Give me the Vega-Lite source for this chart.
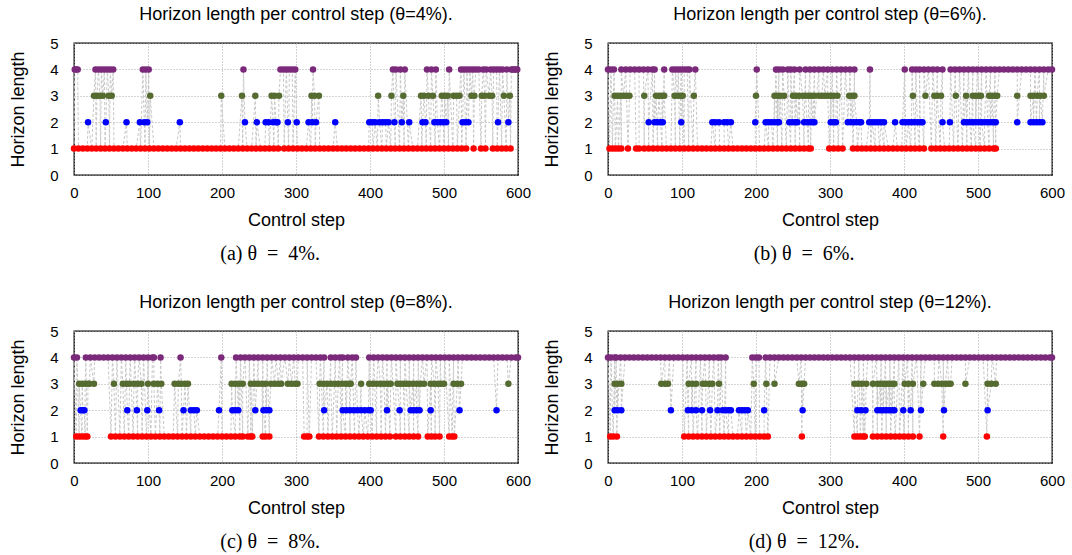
{
"$schema":"https://vega.github.io/schema/vega-lite/v6.json",
"background":"white",
"padding":{"left":9,"right":5,"top":5,"bottom":5},
"datasets":{
"a":[
{"s":0,"h":1},{"s":6,"h":1},{"s":12,"h":1},{"s":18,"h":1},{"s":24,"h":1},{"s":30,"h":1},{"s":36,"h":1},{"s":42,"h":1},{"s":48,"h":1},{"s":54,"h":1},{"s":60,"h":1},{"s":66,"h":1},{"s":72,"h":1},{"s":78,"h":1},{"s":84,"h":1},{"s":90,"h":1},{"s":96,"h":1},{"s":102,"h":1},{"s":108,"h":1},{"s":114,"h":1},{"s":120,"h":1},{"s":126,"h":1},{"s":132,"h":1},{"s":138,"h":1},{"s":144,"h":1},{"s":150,"h":1},{"s":156,"h":1},{"s":162,"h":1},{"s":168,"h":1},{"s":174,"h":1},{"s":180,"h":1},{"s":186,"h":1},{"s":192,"h":1},{"s":198,"h":1},{"s":204,"h":1},{"s":210,"h":1},{"s":216,"h":1},{"s":222,"h":1},{"s":228,"h":1},{"s":234,"h":1},{"s":240,"h":1},{"s":246,"h":1},{"s":252,"h":1},{"s":258,"h":1},{"s":264,"h":1},{"s":270,"h":1},{"s":276,"h":1},{"s":284,"h":1},{"s":290,"h":1},{"s":296,"h":1},{"s":302,"h":1},{"s":308,"h":1},{"s":314,"h":1},{"s":320,"h":1},{"s":326,"h":1},{"s":332,"h":1},{"s":338,"h":1},{"s":344,"h":1},{"s":350,"h":1},{"s":356,"h":1},{"s":362,"h":1},{"s":368,"h":1},{"s":374,"h":1},{"s":380,"h":1},{"s":386,"h":1},{"s":392,"h":1},{"s":398,"h":1},{"s":404,"h":1},{"s":410,"h":1},{"s":416,"h":1},{"s":422,"h":1},{"s":428,"h":1},{"s":434,"h":1},{"s":440,"h":1},{"s":446,"h":1},{"s":452,"h":1},{"s":458,"h":1},{"s":464,"h":1},{"s":470,"h":1},{"s":476,"h":1},{"s":482,"h":1},{"s":488,"h":1},{"s":494,"h":1},{"s":500,"h":1},{"s":506,"h":1},{"s":512,"h":1},{"s":518,"h":1},{"s":524,"h":1},{"s":530,"h":1},{"s":540,"h":1},{"s":550,"h":1},{"s":556,"h":1},{"s":566,"h":1},{"s":572,"h":1},{"s":578,"h":1},{"s":584,"h":1},{"s":590,"h":1},
{"s":1,"h":4},{"s":3,"h":4},{"s":5,"h":4},{"s":29,"h":4},{"s":33,"h":4},{"s":37,"h":4},{"s":41,"h":4},{"s":45,"h":4},{"s":49,"h":4},{"s":53,"h":4},{"s":93,"h":4},{"s":97,"h":4},{"s":101,"h":4},{"s":229,"h":4},{"s":279,"h":4},{"s":283,"h":4},{"s":287,"h":4},{"s":291,"h":4},{"s":295,"h":4},{"s":299,"h":4},{"s":323,"h":4},{"s":431,"h":4},{"s":435,"h":4},{"s":441,"h":4},{"s":447,"h":4},{"s":477,"h":4},{"s":483,"h":4},{"s":489,"h":4},{"s":507,"h":4},{"s":523,"h":4},{"s":527,"h":4},{"s":531,"h":4},{"s":535,"h":4},{"s":539,"h":4},{"s":543,"h":4},{"s":547,"h":4},{"s":553,"h":4},{"s":557,"h":4},{"s":563,"h":4},{"s":567,"h":4},{"s":571,"h":4},{"s":575,"h":4},{"s":579,"h":4},{"s":585,"h":4},{"s":591,"h":4},{"s":593,"h":4},{"s":595,"h":4},{"s":597,"h":4},{"s":599,"h":4},
{"s":27,"h":3},{"s":31,"h":3},{"s":35,"h":3},{"s":39,"h":3},{"s":47,"h":3},{"s":51,"h":3},{"s":103,"h":3},{"s":199,"h":3},{"s":227,"h":3},{"s":245,"h":3},{"s":267,"h":3},{"s":271,"h":3},{"s":277,"h":3},{"s":321,"h":3},{"s":325,"h":3},{"s":331,"h":3},{"s":411,"h":3},{"s":429,"h":3},{"s":445,"h":3},{"s":469,"h":3},{"s":473,"h":3},{"s":479,"h":3},{"s":485,"h":3},{"s":497,"h":3},{"s":501,"h":3},{"s":505,"h":3},{"s":513,"h":3},{"s":517,"h":3},{"s":521,"h":3},{"s":537,"h":3},{"s":541,"h":3},{"s":551,"h":3},{"s":555,"h":3},{"s":561,"h":3},{"s":565,"h":3},{"s":581,"h":3},{"s":589,"h":3},
{"s":19,"h":2},{"s":43,"h":2},{"s":71,"h":2},{"s":89,"h":2},{"s":95,"h":2},{"s":99,"h":2},{"s":143,"h":2},{"s":231,"h":2},{"s":247,"h":2},{"s":259,"h":2},{"s":263,"h":2},{"s":269,"h":2},{"s":273,"h":2},{"s":275,"h":2},{"s":289,"h":2},{"s":301,"h":2},{"s":317,"h":2},{"s":322,"h":2},{"s":327,"h":2},{"s":353,"h":2},{"s":399,"h":2},{"s":403,"h":2},{"s":407,"h":2},{"s":413,"h":2},{"s":417,"h":2},{"s":421,"h":2},{"s":425,"h":2},{"s":433,"h":2},{"s":443,"h":2},{"s":453,"h":2},{"s":471,"h":2},{"s":475,"h":2},{"s":487,"h":2},{"s":491,"h":2},{"s":495,"h":2},{"s":499,"h":2},{"s":503,"h":2},{"s":525,"h":2},{"s":529,"h":2},{"s":533,"h":2},{"s":573,"h":2},{"s":587,"h":2}
],
"b":[
{"s":2,"h":1},{"s":6,"h":1},{"s":10,"h":1},{"s":14,"h":1},{"s":18,"h":1},{"s":27,"h":1},{"s":38,"h":1},{"s":42,"h":1},{"s":49,"h":1},{"s":55,"h":1},{"s":61,"h":1},{"s":67,"h":1},{"s":73,"h":1},{"s":79,"h":1},{"s":85,"h":1},{"s":91,"h":1},{"s":97,"h":1},{"s":103,"h":1},{"s":109,"h":1},{"s":115,"h":1},{"s":121,"h":1},{"s":127,"h":1},{"s":133,"h":1},{"s":139,"h":1},{"s":145,"h":1},{"s":151,"h":1},{"s":157,"h":1},{"s":163,"h":1},{"s":169,"h":1},{"s":175,"h":1},{"s":181,"h":1},{"s":187,"h":1},{"s":193,"h":1},{"s":199,"h":1},{"s":205,"h":1},{"s":211,"h":1},{"s":217,"h":1},{"s":223,"h":1},{"s":229,"h":1},{"s":235,"h":1},{"s":241,"h":1},{"s":247,"h":1},{"s":253,"h":1},{"s":259,"h":1},{"s":265,"h":1},{"s":271,"h":1},{"s":274,"h":1},{"s":299,"h":1},{"s":305,"h":1},{"s":311,"h":1},{"s":317,"h":1},{"s":331,"h":1},{"s":337,"h":1},{"s":343,"h":1},{"s":349,"h":1},{"s":355,"h":1},{"s":361,"h":1},{"s":367,"h":1},{"s":373,"h":1},{"s":379,"h":1},{"s":385,"h":1},{"s":391,"h":1},{"s":397,"h":1},{"s":403,"h":1},{"s":409,"h":1},{"s":415,"h":1},{"s":421,"h":1},{"s":427,"h":1},{"s":437,"h":1},{"s":443,"h":1},{"s":449,"h":1},{"s":455,"h":1},{"s":461,"h":1},{"s":467,"h":1},{"s":473,"h":1},{"s":479,"h":1},{"s":485,"h":1},{"s":491,"h":1},{"s":497,"h":1},{"s":503,"h":1},{"s":509,"h":1},{"s":515,"h":1},{"s":521,"h":1},{"s":524,"h":1},
{"s":0,"h":4},{"s":4,"h":4},{"s":8,"h":4},{"s":18,"h":4},{"s":24,"h":4},{"s":30,"h":4},{"s":36,"h":4},{"s":42,"h":4},{"s":48,"h":4},{"s":54,"h":4},{"s":60,"h":4},{"s":63,"h":4},{"s":76,"h":4},{"s":87,"h":4},{"s":91,"h":4},{"s":95,"h":4},{"s":99,"h":4},{"s":103,"h":4},{"s":107,"h":4},{"s":110,"h":4},{"s":118,"h":4},{"s":201,"h":4},{"s":227,"h":4},{"s":231,"h":4},{"s":236,"h":4},{"s":243,"h":4},{"s":247,"h":4},{"s":252,"h":4},{"s":259,"h":4},{"s":267,"h":4},{"s":273,"h":4},{"s":279,"h":4},{"s":285,"h":4},{"s":291,"h":4},{"s":297,"h":4},{"s":303,"h":4},{"s":309,"h":4},{"s":315,"h":4},{"s":321,"h":4},{"s":327,"h":4},{"s":333,"h":4},{"s":354,"h":4},{"s":401,"h":4},{"s":411,"h":4},{"s":416,"h":4},{"s":421,"h":4},{"s":427,"h":4},{"s":433,"h":4},{"s":439,"h":4},{"s":445,"h":4},{"s":452,"h":4},{"s":463,"h":4},{"s":469,"h":4},{"s":475,"h":4},{"s":481,"h":4},{"s":487,"h":4},{"s":493,"h":4},{"s":499,"h":4},{"s":505,"h":4},{"s":511,"h":4},{"s":517,"h":4},{"s":523,"h":4},{"s":529,"h":4},{"s":535,"h":4},{"s":541,"h":4},{"s":547,"h":4},{"s":553,"h":4},{"s":559,"h":4},{"s":565,"h":4},{"s":571,"h":4},{"s":577,"h":4},{"s":583,"h":4},{"s":589,"h":4},{"s":595,"h":4},{"s":600,"h":4},
{"s":9,"h":3},{"s":13,"h":3},{"s":17,"h":3},{"s":21,"h":3},{"s":25,"h":3},{"s":29,"h":3},{"s":49,"h":3},{"s":65,"h":3},{"s":69,"h":3},{"s":73,"h":3},{"s":76,"h":3},{"s":90,"h":3},{"s":94,"h":3},{"s":98,"h":3},{"s":101,"h":3},{"s":116,"h":3},{"s":200,"h":3},{"s":225,"h":3},{"s":229,"h":3},{"s":233,"h":3},{"s":238,"h":3},{"s":250,"h":3},{"s":254,"h":3},{"s":258,"h":3},{"s":263,"h":3},{"s":267,"h":3},{"s":271,"h":3},{"s":275,"h":3},{"s":279,"h":3},{"s":285,"h":3},{"s":289,"h":3},{"s":293,"h":3},{"s":297,"h":3},{"s":301,"h":3},{"s":305,"h":3},{"s":310,"h":3},{"s":326,"h":3},{"s":330,"h":3},{"s":333,"h":3},{"s":412,"h":3},{"s":429,"h":3},{"s":441,"h":3},{"s":445,"h":3},{"s":450,"h":3},{"s":470,"h":3},{"s":484,"h":3},{"s":493,"h":3},{"s":497,"h":3},{"s":501,"h":3},{"s":504,"h":3},{"s":515,"h":3},{"s":519,"h":3},{"s":523,"h":3},{"s":526,"h":3},{"s":553,"h":3},{"s":571,"h":3},{"s":575,"h":3},{"s":580,"h":3},{"s":584,"h":3},{"s":589,"h":3},
{"s":55,"h":2},{"s":63,"h":2},{"s":67,"h":2},{"s":71,"h":2},{"s":74,"h":2},{"s":99,"h":2},{"s":141,"h":2},{"s":145,"h":2},{"s":150,"h":2},{"s":157,"h":2},{"s":161,"h":2},{"s":166,"h":2},{"s":199,"h":2},{"s":213,"h":2},{"s":217,"h":2},{"s":221,"h":2},{"s":225,"h":2},{"s":229,"h":2},{"s":231,"h":2},{"s":245,"h":2},{"s":249,"h":2},{"s":253,"h":2},{"s":256,"h":2},{"s":265,"h":2},{"s":269,"h":2},{"s":273,"h":2},{"s":277,"h":2},{"s":279,"h":2},{"s":301,"h":2},{"s":305,"h":2},{"s":308,"h":2},{"s":324,"h":2},{"s":328,"h":2},{"s":332,"h":2},{"s":336,"h":2},{"s":340,"h":2},{"s":342,"h":2},{"s":353,"h":2},{"s":357,"h":2},{"s":361,"h":2},{"s":365,"h":2},{"s":369,"h":2},{"s":373,"h":2},{"s":388,"h":2},{"s":398,"h":2},{"s":402,"h":2},{"s":406,"h":2},{"s":410,"h":2},{"s":414,"h":2},{"s":418,"h":2},{"s":422,"h":2},{"s":425,"h":2},{"s":452,"h":2},{"s":462,"h":2},{"s":481,"h":2},{"s":485,"h":2},{"s":489,"h":2},{"s":493,"h":2},{"s":497,"h":2},{"s":501,"h":2},{"s":505,"h":2},{"s":509,"h":2},{"s":513,"h":2},{"s":517,"h":2},{"s":521,"h":2},{"s":524,"h":2},{"s":553,"h":2},{"s":571,"h":2},{"s":575,"h":2},{"s":579,"h":2},{"s":583,"h":2},{"s":587,"h":2}
],
"c":[
{"s":3,"h":1},{"s":7,"h":1},{"s":11,"h":1},{"s":15,"h":1},{"s":18,"h":1},{"s":50,"h":1},{"s":56,"h":1},{"s":62,"h":1},{"s":68,"h":1},{"s":74,"h":1},{"s":80,"h":1},{"s":86,"h":1},{"s":92,"h":1},{"s":98,"h":1},{"s":104,"h":1},{"s":110,"h":1},{"s":116,"h":1},{"s":122,"h":1},{"s":128,"h":1},{"s":134,"h":1},{"s":140,"h":1},{"s":146,"h":1},{"s":152,"h":1},{"s":158,"h":1},{"s":164,"h":1},{"s":170,"h":1},{"s":176,"h":1},{"s":182,"h":1},{"s":188,"h":1},{"s":194,"h":1},{"s":200,"h":1},{"s":206,"h":1},{"s":212,"h":1},{"s":218,"h":1},{"s":224,"h":1},{"s":228,"h":1},{"s":235,"h":1},{"s":239,"h":1},{"s":241,"h":1},{"s":255,"h":1},{"s":259,"h":1},{"s":264,"h":1},{"s":311,"h":1},{"s":315,"h":1},{"s":318,"h":1},{"s":331,"h":1},{"s":337,"h":1},{"s":343,"h":1},{"s":349,"h":1},{"s":355,"h":1},{"s":361,"h":1},{"s":367,"h":1},{"s":373,"h":1},{"s":379,"h":1},{"s":385,"h":1},{"s":391,"h":1},{"s":397,"h":1},{"s":403,"h":1},{"s":409,"h":1},{"s":415,"h":1},{"s":421,"h":1},{"s":427,"h":1},{"s":435,"h":1},{"s":441,"h":1},{"s":447,"h":1},{"s":453,"h":1},{"s":459,"h":1},{"s":465,"h":1},{"s":478,"h":1},{"s":483,"h":1},{"s":488,"h":1},{"s":494,"h":1},{"s":507,"h":1},{"s":511,"h":1},{"s":514,"h":1},
{"s":0,"h":4},{"s":4,"h":4},{"s":16,"h":4},{"s":22,"h":4},{"s":28,"h":4},{"s":34,"h":4},{"s":40,"h":4},{"s":46,"h":4},{"s":52,"h":4},{"s":58,"h":4},{"s":64,"h":4},{"s":70,"h":4},{"s":76,"h":4},{"s":82,"h":4},{"s":88,"h":4},{"s":94,"h":4},{"s":100,"h":4},{"s":106,"h":4},{"s":108,"h":4},{"s":117,"h":4},{"s":144,"h":4},{"s":199,"h":4},{"s":219,"h":4},{"s":225,"h":4},{"s":231,"h":4},{"s":237,"h":4},{"s":243,"h":4},{"s":249,"h":4},{"s":255,"h":4},{"s":261,"h":4},{"s":267,"h":4},{"s":273,"h":4},{"s":279,"h":4},{"s":285,"h":4},{"s":291,"h":4},{"s":297,"h":4},{"s":303,"h":4},{"s":309,"h":4},{"s":315,"h":4},{"s":321,"h":4},{"s":327,"h":4},{"s":333,"h":4},{"s":338,"h":4},{"s":347,"h":4},{"s":353,"h":4},{"s":359,"h":4},{"s":363,"h":4},{"s":370,"h":4},{"s":376,"h":4},{"s":381,"h":4},{"s":399,"h":4},{"s":405,"h":4},{"s":411,"h":4},{"s":417,"h":4},{"s":423,"h":4},{"s":429,"h":4},{"s":435,"h":4},{"s":441,"h":4},{"s":447,"h":4},{"s":453,"h":4},{"s":459,"h":4},{"s":465,"h":4},{"s":471,"h":4},{"s":477,"h":4},{"s":483,"h":4},{"s":489,"h":4},{"s":495,"h":4},{"s":501,"h":4},{"s":507,"h":4},{"s":513,"h":4},{"s":519,"h":4},{"s":525,"h":4},{"s":531,"h":4},{"s":537,"h":4},{"s":543,"h":4},{"s":549,"h":4},{"s":555,"h":4},{"s":561,"h":4},{"s":567,"h":4},{"s":573,"h":4},{"s":579,"h":4},{"s":585,"h":4},{"s":591,"h":4},{"s":597,"h":4},{"s":600,"h":4},
{"s":7,"h":3},{"s":11,"h":3},{"s":15,"h":3},{"s":19,"h":3},{"s":21,"h":3},{"s":27,"h":3},{"s":54,"h":3},{"s":66,"h":3},{"s":71,"h":3},{"s":75,"h":3},{"s":81,"h":3},{"s":86,"h":3},{"s":91,"h":3},{"s":100,"h":3},{"s":108,"h":3},{"s":113,"h":3},{"s":118,"h":3},{"s":136,"h":3},{"s":141,"h":3},{"s":145,"h":3},{"s":150,"h":3},{"s":154,"h":3},{"s":213,"h":3},{"s":218,"h":3},{"s":223,"h":3},{"s":228,"h":3},{"s":239,"h":3},{"s":244,"h":3},{"s":249,"h":3},{"s":254,"h":3},{"s":259,"h":3},{"s":266,"h":3},{"s":271,"h":3},{"s":276,"h":3},{"s":280,"h":3},{"s":289,"h":3},{"s":294,"h":3},{"s":299,"h":3},{"s":302,"h":3},{"s":332,"h":3},{"s":337,"h":3},{"s":342,"h":3},{"s":347,"h":3},{"s":352,"h":3},{"s":357,"h":3},{"s":362,"h":3},{"s":367,"h":3},{"s":372,"h":3},{"s":374,"h":3},{"s":388,"h":3},{"s":399,"h":3},{"s":404,"h":3},{"s":409,"h":3},{"s":414,"h":3},{"s":419,"h":3},{"s":424,"h":3},{"s":428,"h":3},{"s":437,"h":3},{"s":441,"h":3},{"s":445,"h":3},{"s":449,"h":3},{"s":453,"h":3},{"s":458,"h":3},{"s":463,"h":3},{"s":468,"h":3},{"s":473,"h":3},{"s":482,"h":3},{"s":487,"h":3},{"s":492,"h":3},{"s":496,"h":3},{"s":500,"h":3},{"s":513,"h":3},{"s":518,"h":3},{"s":523,"h":3},{"s":587,"h":3},
{"s":9,"h":2},{"s":12,"h":2},{"s":14,"h":2},{"s":72,"h":2},{"s":85,"h":2},{"s":99,"h":2},{"s":115,"h":2},{"s":148,"h":2},{"s":158,"h":2},{"s":162,"h":2},{"s":166,"h":2},{"s":196,"h":2},{"s":214,"h":2},{"s":218,"h":2},{"s":222,"h":2},{"s":245,"h":2},{"s":256,"h":2},{"s":260,"h":2},{"s":264,"h":2},{"s":338,"h":2},{"s":363,"h":2},{"s":368,"h":2},{"s":373,"h":2},{"s":378,"h":2},{"s":383,"h":2},{"s":388,"h":2},{"s":393,"h":2},{"s":398,"h":2},{"s":401,"h":2},{"s":423,"h":2},{"s":440,"h":2},{"s":455,"h":2},{"s":459,"h":2},{"s":463,"h":2},{"s":467,"h":2},{"s":482,"h":2},{"s":521,"h":2},{"s":571,"h":2}
],
"d":[
{"s":3,"h":1},{"s":7,"h":1},{"s":12,"h":1},{"s":103,"h":1},{"s":109,"h":1},{"s":115,"h":1},{"s":121,"h":1},{"s":127,"h":1},{"s":133,"h":1},{"s":139,"h":1},{"s":145,"h":1},{"s":151,"h":1},{"s":157,"h":1},{"s":163,"h":1},{"s":169,"h":1},{"s":175,"h":1},{"s":181,"h":1},{"s":187,"h":1},{"s":193,"h":1},{"s":199,"h":1},{"s":205,"h":1},{"s":211,"h":1},{"s":216,"h":1},{"s":262,"h":1},{"s":333,"h":1},{"s":337,"h":1},{"s":341,"h":1},{"s":345,"h":1},{"s":347,"h":1},{"s":358,"h":1},{"s":364,"h":1},{"s":370,"h":1},{"s":376,"h":1},{"s":382,"h":1},{"s":388,"h":1},{"s":394,"h":1},{"s":400,"h":1},{"s":406,"h":1},{"s":412,"h":1},{"s":421,"h":1},{"s":453,"h":1},{"s":512,"h":1},
{"s":0,"h":4},{"s":4,"h":4},{"s":9,"h":4},{"s":11,"h":4},{"s":17,"h":4},{"s":23,"h":4},{"s":29,"h":4},{"s":35,"h":4},{"s":41,"h":4},{"s":47,"h":4},{"s":53,"h":4},{"s":59,"h":4},{"s":65,"h":4},{"s":71,"h":4},{"s":77,"h":4},{"s":83,"h":4},{"s":89,"h":4},{"s":95,"h":4},{"s":101,"h":4},{"s":107,"h":4},{"s":113,"h":4},{"s":119,"h":4},{"s":125,"h":4},{"s":131,"h":4},{"s":137,"h":4},{"s":143,"h":4},{"s":149,"h":4},{"s":153,"h":4},{"s":159,"h":4},{"s":195,"h":4},{"s":200,"h":4},{"s":204,"h":4},{"s":213,"h":4},{"s":219,"h":4},{"s":225,"h":4},{"s":231,"h":4},{"s":237,"h":4},{"s":243,"h":4},{"s":249,"h":4},{"s":255,"h":4},{"s":261,"h":4},{"s":267,"h":4},{"s":273,"h":4},{"s":279,"h":4},{"s":285,"h":4},{"s":291,"h":4},{"s":297,"h":4},{"s":303,"h":4},{"s":309,"h":4},{"s":315,"h":4},{"s":321,"h":4},{"s":327,"h":4},{"s":333,"h":4},{"s":339,"h":4},{"s":345,"h":4},{"s":351,"h":4},{"s":357,"h":4},{"s":363,"h":4},{"s":369,"h":4},{"s":375,"h":4},{"s":381,"h":4},{"s":387,"h":4},{"s":393,"h":4},{"s":399,"h":4},{"s":405,"h":4},{"s":411,"h":4},{"s":417,"h":4},{"s":423,"h":4},{"s":429,"h":4},{"s":435,"h":4},{"s":441,"h":4},{"s":447,"h":4},{"s":453,"h":4},{"s":459,"h":4},{"s":465,"h":4},{"s":471,"h":4},{"s":477,"h":4},{"s":483,"h":4},{"s":489,"h":4},{"s":495,"h":4},{"s":501,"h":4},{"s":507,"h":4},{"s":513,"h":4},{"s":519,"h":4},{"s":525,"h":4},{"s":531,"h":4},{"s":537,"h":4},{"s":543,"h":4},{"s":549,"h":4},{"s":555,"h":4},{"s":561,"h":4},{"s":567,"h":4},{"s":573,"h":4},{"s":579,"h":4},{"s":585,"h":4},{"s":591,"h":4},{"s":597,"h":4},{"s":600,"h":4},
{"s":9,"h":3},{"s":13,"h":3},{"s":18,"h":3},{"s":72,"h":3},{"s":77,"h":3},{"s":81,"h":3},{"s":109,"h":3},{"s":114,"h":3},{"s":119,"h":3},{"s":128,"h":3},{"s":132,"h":3},{"s":137,"h":3},{"s":141,"h":3},{"s":150,"h":3},{"s":197,"h":3},{"s":214,"h":3},{"s":225,"h":3},{"s":258,"h":3},{"s":262,"h":3},{"s":265,"h":3},{"s":333,"h":3},{"s":338,"h":3},{"s":343,"h":3},{"s":349,"h":3},{"s":358,"h":3},{"s":364,"h":3},{"s":368,"h":3},{"s":372,"h":3},{"s":376,"h":3},{"s":380,"h":3},{"s":384,"h":3},{"s":387,"h":3},{"s":401,"h":3},{"s":406,"h":3},{"s":412,"h":3},{"s":426,"h":3},{"s":441,"h":3},{"s":446,"h":3},{"s":451,"h":3},{"s":456,"h":3},{"s":460,"h":3},{"s":463,"h":3},{"s":483,"h":3},{"s":513,"h":3},{"s":518,"h":3},{"s":524,"h":3},
{"s":9,"h":2},{"s":13,"h":2},{"s":18,"h":2},{"s":85,"h":2},{"s":108,"h":2},{"s":113,"h":2},{"s":119,"h":2},{"s":127,"h":2},{"s":138,"h":2},{"s":148,"h":2},{"s":155,"h":2},{"s":159,"h":2},{"s":163,"h":2},{"s":166,"h":2},{"s":177,"h":2},{"s":181,"h":2},{"s":185,"h":2},{"s":189,"h":2},{"s":211,"h":2},{"s":263,"h":2},{"s":337,"h":2},{"s":342,"h":2},{"s":348,"h":2},{"s":364,"h":2},{"s":368,"h":2},{"s":372,"h":2},{"s":376,"h":2},{"s":380,"h":2},{"s":384,"h":2},{"s":387,"h":2},{"s":399,"h":2},{"s":409,"h":2},{"s":423,"h":2},{"s":454,"h":2},{"s":513,"h":2}
]
},
"vconcat":[
{"hconcat":[
{"vconcat":[{"width":444,"height":132,"data":{"name":"a"},
"title":{"text":"Horizon length per control step (θ=4%)."},
"encoding":{"x":{"field":"s","type":"quantitative","title":"Control step","scale":{"domain":[0,600],"nice":false,"zero":false,"padding":0},"axis":{"values":[0,100,200,300,400,500,600]}},
"y":{"field":"h","type":"quantitative","title":"Horizon length","scale":{"domain":[0,5],"nice":false,"padding":0},"axis":{"values":[0,1,2,3,4,5]}}},
"layer":[{"mark":{"type":"line","color":"#c8c8c8","strokeWidth":1,"strokeDash":[3,2]}},
{"mark":{"type":"circle","size":42,"opacity":1},"encoding":{"color":{"field":"h","type":"nominal","scale":{"domain":[1,2,3,4],"range":["#ff0000","#0000ff","#556b2f","#7b2a7b"]},"legend":null}}}]}],
"title":{"text":"(a) θ\u2002=\u20024%.","orient":"bottom","font":"Liberation Serif","fontSize":20,"frame":"bounds","anchor":"middle","offset":14}},
{"vconcat":[{"width":444,"height":132,"data":{"name":"b"},
"title":{"text":"Horizon length per control step (θ=6%)."},
"encoding":{"x":{"field":"s","type":"quantitative","title":"Control step","scale":{"domain":[0,600],"nice":false,"zero":false,"padding":0},"axis":{"values":[0,100,200,300,400,500,600]}},
"y":{"field":"h","type":"quantitative","title":"Horizon length","scale":{"domain":[0,5],"nice":false,"padding":0},"axis":{"values":[0,1,2,3,4,5]}}},
"layer":[{"mark":{"type":"line","color":"#c8c8c8","strokeWidth":1,"strokeDash":[3,2]}},
{"mark":{"type":"circle","size":42,"opacity":1},"encoding":{"color":{"field":"h","type":"nominal","scale":{"domain":[1,2,3,4],"range":["#ff0000","#0000ff","#556b2f","#7b2a7b"]},"legend":null}}}]}],
"title":{"text":"(b) θ\u2002=\u20026%.","orient":"bottom","font":"Liberation Serif","fontSize":20,"frame":"bounds","anchor":"middle","offset":14}}
]},
{"hconcat":[
{"vconcat":[{"width":444,"height":132,"data":{"name":"c"},
"title":{"text":"Horizon length per control step (θ=8%)."},
"encoding":{"x":{"field":"s","type":"quantitative","title":"Control step","scale":{"domain":[0,600],"nice":false,"zero":false,"padding":0},"axis":{"values":[0,100,200,300,400,500,600]}},
"y":{"field":"h","type":"quantitative","title":"Horizon length","scale":{"domain":[0,5],"nice":false,"padding":0},"axis":{"values":[0,1,2,3,4,5]}}},
"layer":[{"mark":{"type":"line","color":"#c8c8c8","strokeWidth":1,"strokeDash":[3,2]}},
{"mark":{"type":"circle","size":42,"opacity":1},"encoding":{"color":{"field":"h","type":"nominal","scale":{"domain":[1,2,3,4],"range":["#ff0000","#0000ff","#556b2f","#7b2a7b"]},"legend":null}}}]}],
"title":{"text":"(c) θ\u2002=\u20028%.","orient":"bottom","font":"Liberation Serif","fontSize":20,"frame":"bounds","anchor":"middle","offset":14}},
{"vconcat":[{"width":444,"height":132,"data":{"name":"d"},
"title":{"text":"Horizon length per control step (θ=12%)."},
"encoding":{"x":{"field":"s","type":"quantitative","title":"Control step","scale":{"domain":[0,600],"nice":false,"zero":false,"padding":0},"axis":{"values":[0,100,200,300,400,500,600]}},
"y":{"field":"h","type":"quantitative","title":"Horizon length","scale":{"domain":[0,5],"nice":false,"padding":0},"axis":{"values":[0,1,2,3,4,5]}}},
"layer":[{"mark":{"type":"line","color":"#c8c8c8","strokeWidth":1,"strokeDash":[3,2]}},
{"mark":{"type":"circle","size":42,"opacity":1},"encoding":{"color":{"field":"h","type":"nominal","scale":{"domain":[1,2,3,4],"range":["#ff0000","#0000ff","#556b2f","#7b2a7b"]},"legend":null}}}]}],
"title":{"text":"(d) θ\u2002=\u200212%.","orient":"bottom","font":"Liberation Serif","fontSize":20,"frame":"bounds","anchor":"middle","offset":14}}
]}
],
"spacing":29,
"config":{
"concat":{"spacing":11},
"view":{"stroke":"#000","strokeWidth":1.3},
"title":{"font":"Liberation Sans","fontSize":18,"fontWeight":"normal","color":"#000","frame":"group","anchor":"middle","offset":12},
"axis":{"labelFont":"Liberation Sans","labelFontSize":15,"labelColor":"#000","titleFont":"Liberation Sans","titleFontSize":18,"titleFontWeight":"normal","titleColor":"#000","ticks":false,"domain":false,"labelFlush":false,"labelPadding":10,"titlePadding":11,"grid":true,"gridColor":"#a8a8a8","gridDash":[1,2],"gridOpacity":1},
"axisY":{"labelPadding":16,"titlePadding":22}
}
}
